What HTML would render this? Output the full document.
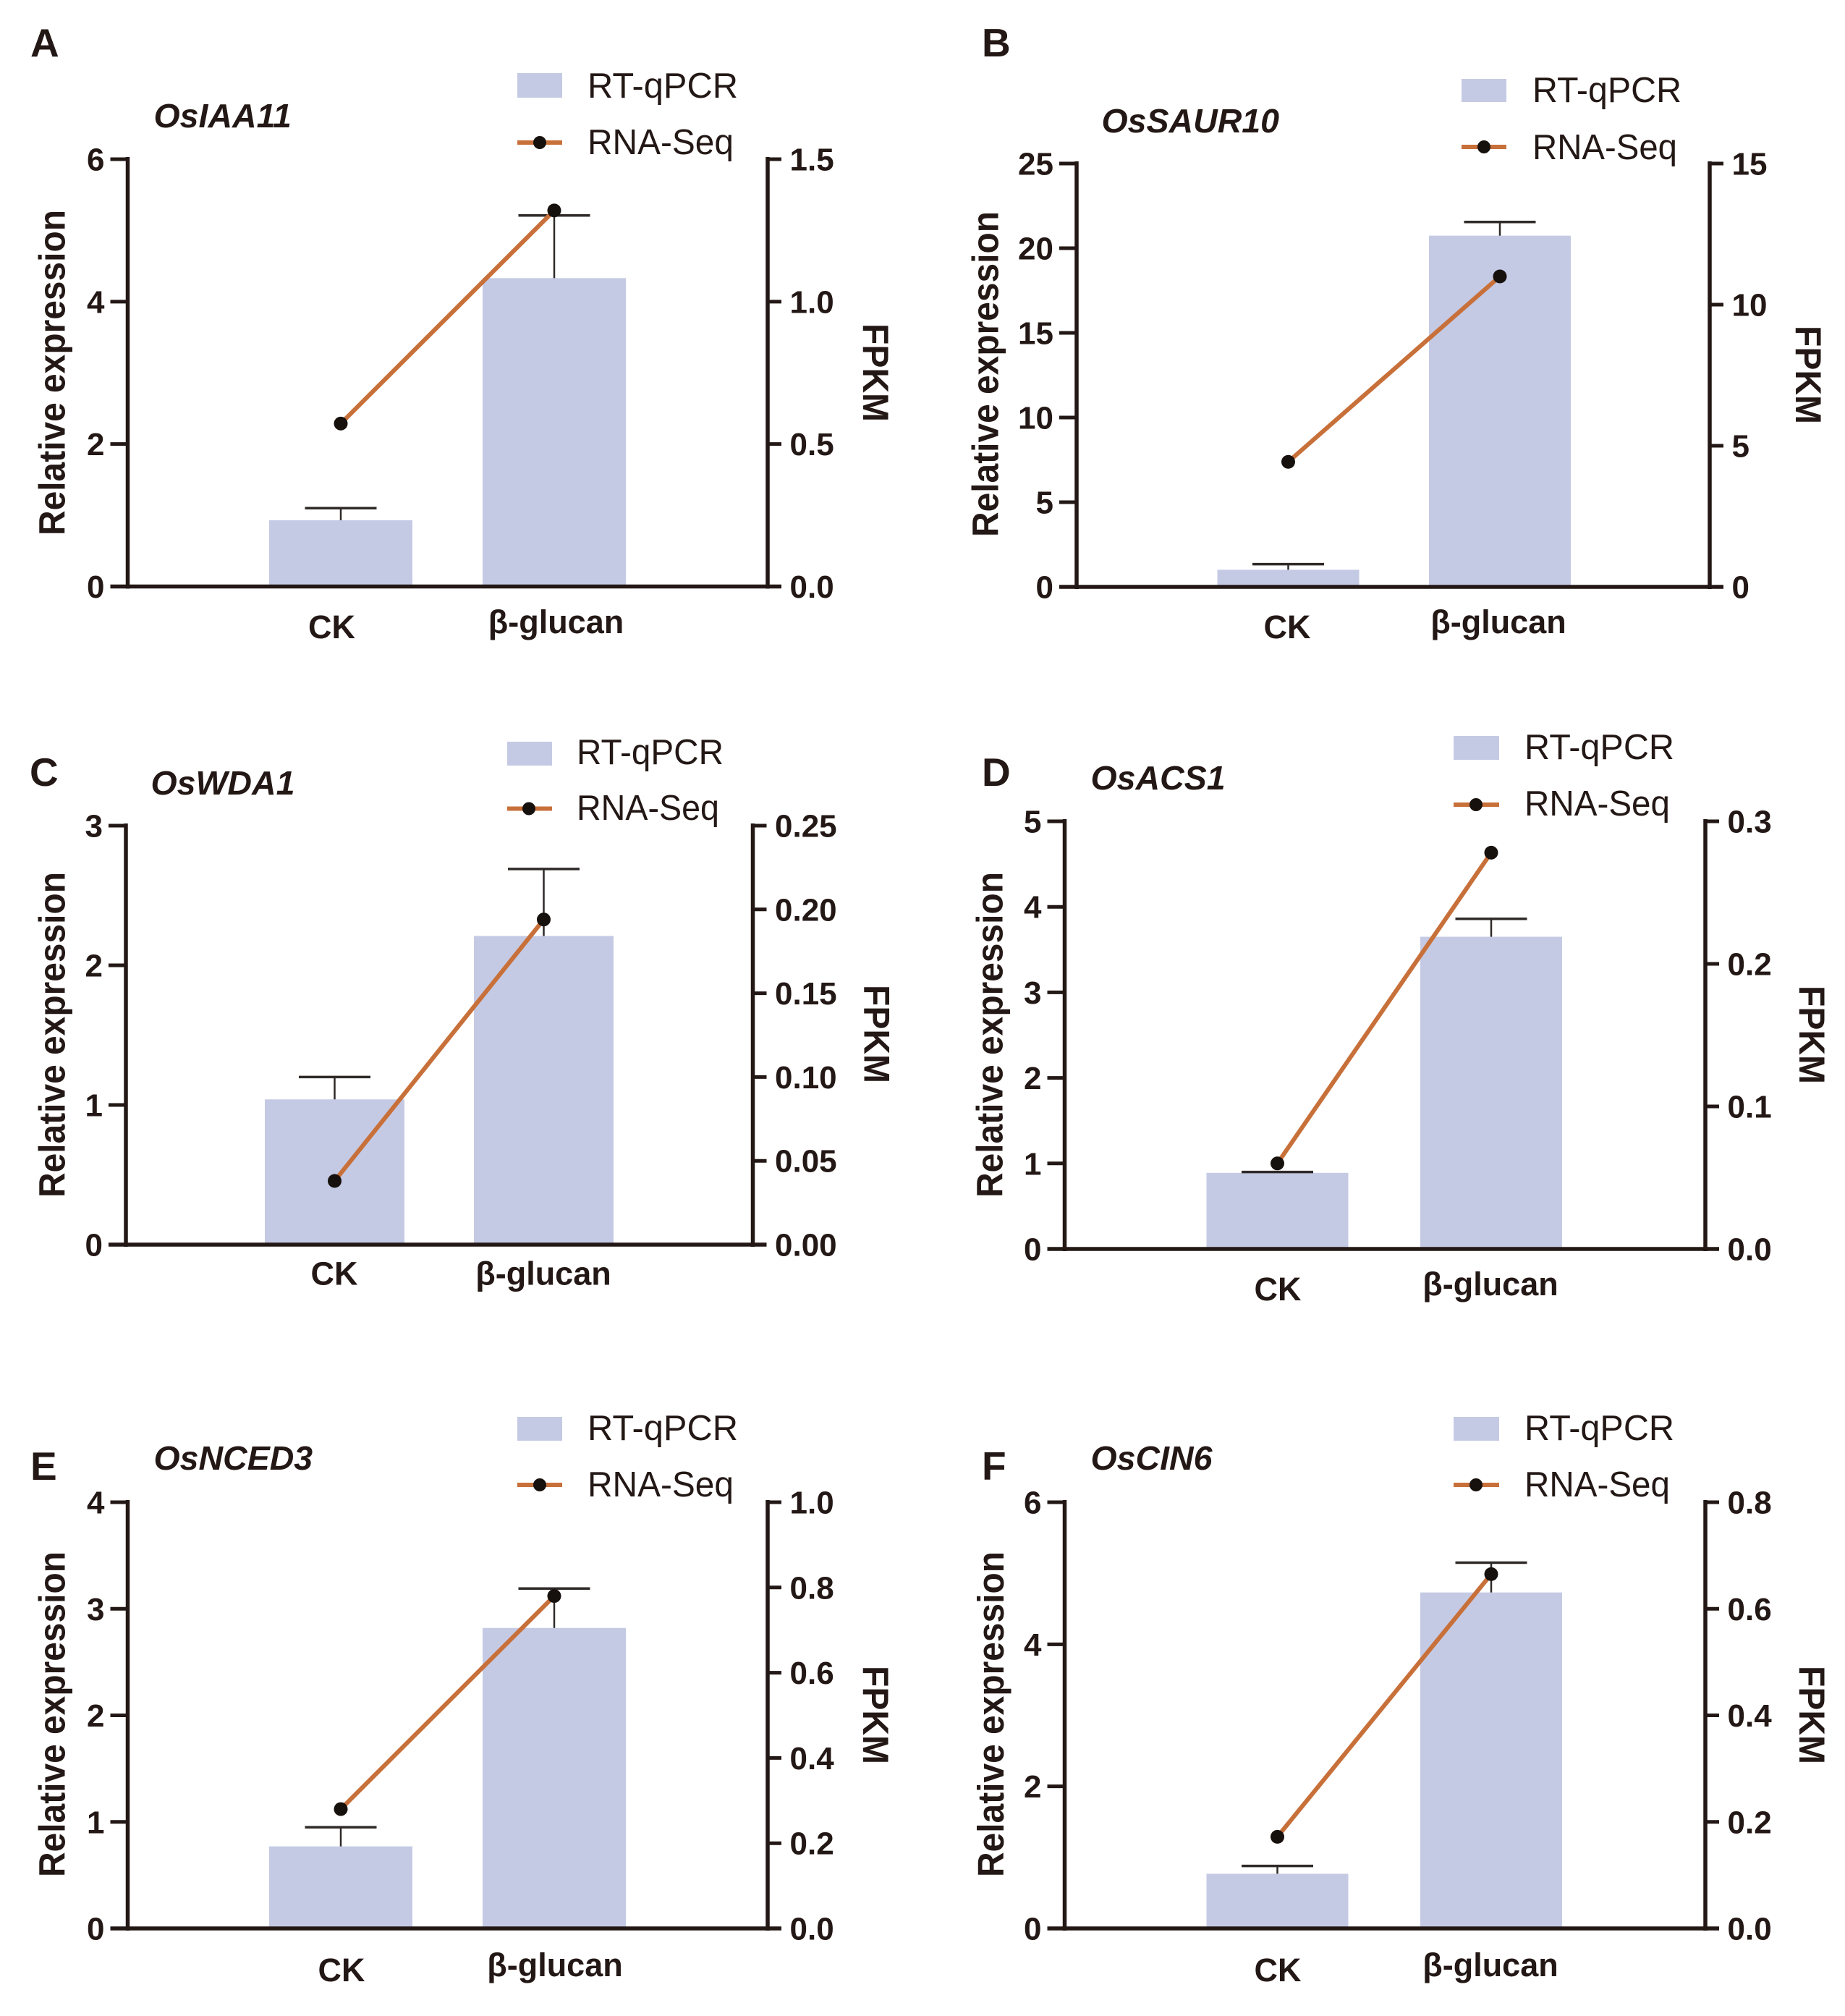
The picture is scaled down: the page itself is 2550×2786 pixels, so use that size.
<!DOCTYPE html>
<html lang="en">
<head>
<meta charset="utf-8">
<title>RT-qPCR and RNA-Seq expression of six rice genes</title>
<style>
  html, body { margin: 0; padding: 0; background: #ffffff; }
  svg { display: block; }
  text { font-family: "Liberation Sans", sans-serif; fill: #231815; }
  .panel-letter { font-size: 55px; font-weight: bold; }
  .gene { font-size: 46.5px; font-weight: bold; font-style: italic; }
  .legend { font-size: 49.5px; }
  .axis-title { font-size: 51px; font-weight: bold; text-anchor: middle; }
  .fpkm { font-size: 50px; font-weight: bold; text-anchor: middle; }
  .tick { font-size: 44px; font-weight: bold; }
  .cat { font-size: 45px; font-weight: bold; text-anchor: middle; }
</style>
</head>
<body>
<svg id="figure" xmlns="http://www.w3.org/2000/svg" width="2550" height="2786" viewBox="0 0 2550 2786">
  <rect x="0" y="0" width="2550" height="2786" fill="#ffffff"/>

  <!-- Panel A -->
  <g id="panel-0">
    <g class="plot"></g>
    <text class="panel-letter" x="42" y="78">A</text>
    <text class="gene" x="212.5" y="176">OsIAA11</text>
    <rect x="715" y="101" width="62" height="34" fill="#c5cae4"/>
    <text class="legend" x="812" y="135" textLength="208" lengthAdjust="spacingAndGlyphs">RT-qPCR</text>
    <line x1="715" y1="197" x2="777" y2="197" stroke="#c8703a" stroke-width="6"/>
    <circle cx="746" cy="197" r="9" fill="#17110e"/>
    <text class="legend" x="812" y="213" textLength="202" lengthAdjust="spacingAndGlyphs">RNA-Seq</text>
    <text class="axis-title" textLength="450" lengthAdjust="spacingAndGlyphs" transform="translate(89.5 515) rotate(-90)">Relative expression</text>
    <text class="fpkm" textLength="136" lengthAdjust="spacingAndGlyphs" transform="translate(1193 515) rotate(90)">FPKM</text>
  </g>

  <!-- Panel B -->
  <g id="panel-1">
    <g class="plot"></g>
    <text class="panel-letter" x="1357" y="78">B</text>
    <text class="gene" x="1522.5" y="183">OsSAUR10</text>
    <rect x="2020" y="109" width="62" height="32" fill="#c5cae4"/>
    <text class="legend" x="2118" y="141" textLength="206" lengthAdjust="spacingAndGlyphs">RT-qPCR</text>
    <line x1="2020" y1="203" x2="2082" y2="203" stroke="#c8703a" stroke-width="6"/>
    <circle cx="2051" cy="203" r="9" fill="#17110e"/>
    <text class="legend" x="2118" y="220" textLength="200" lengthAdjust="spacingAndGlyphs">RNA-Seq</text>
    <text class="axis-title" textLength="450" lengthAdjust="spacingAndGlyphs" transform="translate(1379.5 517) rotate(-90)">Relative expression</text>
    <text class="fpkm" textLength="136" lengthAdjust="spacingAndGlyphs" transform="translate(2482 518) rotate(90)">FPKM</text>
  </g>

  <!-- Panel C -->
  <g id="panel-2">
    <g class="plot"></g>
    <text class="panel-letter" x="41" y="1086">C</text>
    <text class="gene" x="208.5" y="1098">OsWDA1</text>
    <rect x="701" y="1025" width="62" height="33" fill="#c5cae4"/>
    <text class="legend" x="797" y="1056" textLength="203" lengthAdjust="spacingAndGlyphs">RT-qPCR</text>
    <line x1="701" y1="1117.5" x2="763" y2="1117.5" stroke="#c8703a" stroke-width="6"/>
    <circle cx="731" cy="1117.5" r="9" fill="#17110e"/>
    <text class="legend" x="797" y="1133" textLength="197" lengthAdjust="spacingAndGlyphs">RNA-Seq</text>
    <text class="axis-title" textLength="450" lengthAdjust="spacingAndGlyphs" transform="translate(89.5 1430) rotate(-90)">Relative expression</text>
    <text class="fpkm" textLength="136" lengthAdjust="spacingAndGlyphs" transform="translate(1194.5 1429) rotate(90)">FPKM</text>
  </g>

  <!-- Panel D -->
  <g id="panel-3">
    <g class="plot"></g>
    <text class="panel-letter" x="1357" y="1086">D</text>
    <text class="gene" x="1507.5" y="1091">OsACS1</text>
    <rect x="2009" y="1017" width="63" height="33" fill="#c5cae4"/>
    <text class="legend" x="2107" y="1049" textLength="207" lengthAdjust="spacingAndGlyphs">RT-qPCR</text>
    <line x1="2009" y1="1112" x2="2072" y2="1112" stroke="#c8703a" stroke-width="6"/>
    <circle cx="2040" cy="1112" r="9" fill="#17110e"/>
    <text class="legend" x="2107" y="1127" textLength="201" lengthAdjust="spacingAndGlyphs">RNA-Seq</text>
    <text class="axis-title" textLength="450" lengthAdjust="spacingAndGlyphs" transform="translate(1385.5 1430) rotate(-90)">Relative expression</text>
    <text class="fpkm" textLength="136" lengthAdjust="spacingAndGlyphs" transform="translate(2487 1430) rotate(90)">FPKM</text>
  </g>

  <!-- Panel E -->
  <g id="panel-4">
    <g class="plot"></g>
    <text class="panel-letter" x="42" y="2045">E</text>
    <text class="gene" x="212.5" y="2031">OsNCED3</text>
    <rect x="715" y="1958" width="62" height="33" fill="#c5cae4"/>
    <text class="legend" x="812" y="1990" textLength="208" lengthAdjust="spacingAndGlyphs">RT-qPCR</text>
    <line x1="715" y1="2052" x2="777" y2="2052" stroke="#c8703a" stroke-width="6"/>
    <circle cx="746" cy="2052" r="9" fill="#17110e"/>
    <text class="legend" x="812" y="2068" textLength="202" lengthAdjust="spacingAndGlyphs">RNA-Seq</text>
    <text class="axis-title" textLength="450" lengthAdjust="spacingAndGlyphs" transform="translate(89.5 2369) rotate(-90)">Relative expression</text>
    <text class="fpkm" textLength="136" lengthAdjust="spacingAndGlyphs" transform="translate(1193 2370) rotate(90)">FPKM</text>
  </g>

  <!-- Panel F -->
  <g id="panel-5">
    <g class="plot"></g>
    <text class="panel-letter" x="1357" y="2045">F</text>
    <text class="gene" x="1507.5" y="2031">OsCIN6</text>
    <rect x="2009" y="1958" width="63" height="33" fill="#c5cae4"/>
    <text class="legend" x="2107" y="1990" textLength="207" lengthAdjust="spacingAndGlyphs">RT-qPCR</text>
    <line x1="2009" y1="2052" x2="2072" y2="2052" stroke="#c8703a" stroke-width="6"/>
    <circle cx="2040" cy="2052" r="9" fill="#17110e"/>
    <text class="legend" x="2107" y="2068" textLength="201" lengthAdjust="spacingAndGlyphs">RNA-Seq</text>
    <text class="axis-title" textLength="450" lengthAdjust="spacingAndGlyphs" transform="translate(1387 2369) rotate(-90)">Relative expression</text>
    <text class="fpkm" textLength="136" lengthAdjust="spacingAndGlyphs" transform="translate(2487 2370) rotate(90)">FPKM</text>
  </g>
</svg>

<script>
// ---- Chart data, one entry per panel (A to F) ----
const categories = ['CK', 'β-glucan'];
const qpcrValues = [[0.93, 4.33], [1.01, 20.74], [1.04, 2.21], [0.89, 3.65], [0.77, 2.82], [0.77, 4.73]];
const qpcrErrorTops = [[1.10, 5.21], [1.34, 21.55], [1.20, 2.69], [0.90, 3.86], [0.95, 3.19], [0.88, 5.15]];
const fpkmValues = [[0.572, 1.32], [4.43, 11.0], [0.038, 0.194], [0.060, 0.278], [0.280, 0.78], [0.172, 0.665]];
const leftTickLabels = [
  ['0', '2', '4', '6'],
  ['0', '5', '10', '15', '20', '25'],
  ['0', '1', '2', '3'],
  ['0', '1', '2', '3', '4', '5'],
  ['0', '1', '2', '3', '4'],
  ['0', '2', '4', '6']
];
const rightTickLabels = [
  ['0.0', '0.5', '1.0', '1.5'],
  ['0', '5', '10', '15'],
  ['0.00', '0.05', '0.10', '0.15', '0.20', '0.25'],
  ['0.0', '0.1', '0.2', '0.3'],
  ['0.0', '0.2', '0.4', '0.6', '0.8', '1.0'],
  ['0.0', '0.2', '0.4', '0.6', '0.8']
];

// ---- Panel frames (layout only) ----
const frames = [
  { left: 176.5, right: 1061, top: 220, bottom: 810.5, c0: 471, step: 295, barW: 198, ckX: 458.5, gX: 768.5, ckY: 882, gY: 875 },
  { left: 1488, right: 2363, top: 226, bottom: 811, c0: 1780.5, step: 292.5, barW: 196, ckX: 1779, gX: 2071, ckY: 882, gY: 875 },
  { left: 174, right: 1040.5, top: 1141, bottom: 1720, c0: 462.5, step: 289, barW: 193, ckX: 462, gX: 751, ckY: 1775.5, gY: 1775.5 },
  { left: 1471.5, right: 2357, top: 1135, bottom: 1726, c0: 1765.5, step: 295.5, barW: 196, ckX: 1766, gX: 2060, ckY: 1797, gY: 1790 },
  { left: 176.5, right: 1061, top: 2076, bottom: 2665, c0: 471, step: 295, barW: 198, ckX: 472, gX: 767, ckY: 2738, gY: 2731 },
  { left: 1471.5, right: 2357, top: 2076, bottom: 2665, c0: 1765.5, step: 295.5, barW: 196, ckX: 1766, gX: 2060, ckY: 2738, gY: 2731 }
];

const SVG_NS = 'http://www.w3.org/2000/svg';
const INK = '#231815';

function make(parent, tag, attrs, content) {
  const el = document.createElementNS(SVG_NS, tag);
  for (const key in attrs) el.setAttribute(key, attrs[key]);
  if (content !== undefined) el.textContent = content;
  parent.appendChild(el);
  return el;
}

function yScale(frame, maxValue) {
  return function (v) {
    return frame.bottom - (v / maxValue) * (frame.bottom - frame.top);
  };
}

function xScale(frame) {
  return function (i) {
    return frame.c0 + i * frame.step;
  };
}

function drawPanel(p) {
  const f = frames[p];
  const plot = document.querySelector('#panel-' + p + ' .plot');
  const leftLabels = leftTickLabels[p];
  const rightLabels = rightTickLabels[p];
  const yLeft = yScale(f, parseFloat(leftLabels[leftLabels.length - 1]));
  const yRight = yScale(f, parseFloat(rightLabels[rightLabels.length - 1]));
  const x = xScale(f);

  categories.forEach(function (cat, i) {
    const top = yLeft(qpcrValues[p][i]);
    const bar = make(plot, 'rect', { x: x(i) - f.barW / 2, y: top, width: f.barW, height: f.bottom - top, fill: '#c5cae4' });
    
    
  });

  categories.forEach(function (cat, i) {
    const top = yLeft(qpcrValues[p][i]);
    const errTop = yLeft(qpcrErrorTops[p][i]);
    const stem = make(plot, 'line', { x1: x(i), y1: top, x2: x(i), y2: errTop, stroke: '#2f2a28', 'stroke-width': 2.5 });
    
    
    const cap = make(plot, 'line', { x1: x(i) - 49.5, y1: errTop, x2: x(i) + 49.5, y2: errTop, stroke: '#2f2a28', 'stroke-width': 3.5 });
    
    
  });

  const line = make(plot, 'line', {
    x1: x(0), y1: yRight(fpkmValues[p][0]),
    x2: x(1), y2: yRight(fpkmValues[p][1]),
    stroke: '#c8703a', 'stroke-width': 6
  });
  
  

  categories.forEach(function (cat, i) {
    const dot = make(plot, 'circle', { cx: x(i), cy: yRight(fpkmValues[p][i]), r: 9.5, fill: '#17110e' });
    
    
  });

  const leftAxis = make(plot, 'line', { x1: f.left, y1: f.top - 3, x2: f.left, y2: f.bottom + 3, stroke: INK, 'stroke-width': 5.5 });
  
  
  const rightAxis = make(plot, 'line', { x1: f.right, y1: f.top - 3, x2: f.right, y2: f.bottom + 3, stroke: INK, 'stroke-width': 5.5 });
  
  
  const baseAxis = make(plot, 'line', { x1: f.left - 24, y1: f.bottom, x2: f.right + 19, y2: f.bottom, stroke: INK, 'stroke-width': 5.5 });
  
  

  leftLabels.forEach(function (label) {
    const y = yLeft(parseFloat(label));
    const tick = make(plot, 'line', { x1: f.left - 24, y1: y, x2: f.left, y2: y, stroke: INK, 'stroke-width': 5 });
    
    
    const text = make(plot, 'text', { class: 'tick', x: f.left - 32, y: y + 15.5, 'text-anchor': 'end' }, label);
    
    
  });

  rightLabels.forEach(function (label) {
    const y = yRight(parseFloat(label));
    const tick = make(plot, 'line', { x1: f.right, y1: y, x2: f.right + 19, y2: y, stroke: INK, 'stroke-width': 5 });
    
    
    const text = make(plot, 'text', { class: 'tick', x: f.right + 30.5, y: y + 15.5, 'text-anchor': 'start' }, label);
    
    
  });

  const ckLabel = make(plot, 'text', { class: 'cat', x: f.ckX, y: f.ckY }, categories[0]);
  
  
  const glucanLabel = make(plot, 'text', { class: 'cat', x: f.gX, y: f.gY }, categories[1]);
  
  
}

frames.forEach(function (f, p) { drawPanel(p); });
</script>
</body>
</html>
